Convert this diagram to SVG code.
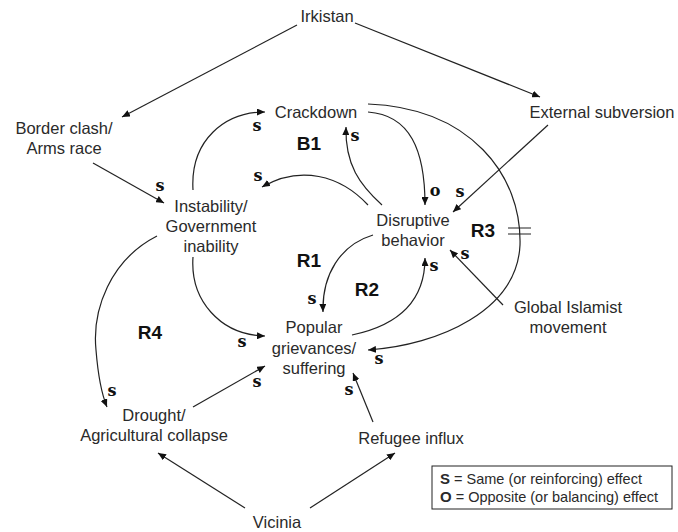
<svg xmlns="http://www.w3.org/2000/svg" width="678" height="532" viewBox="0 0 678 532">
<style>
.t{font-family:"Liberation Sans",Arial,sans-serif;font-size:16.5px;fill:#2a2a2a;text-anchor:middle}
.l{font-family:"Liberation Sans",Arial,sans-serif;font-size:19px;font-weight:bold;fill:#111;text-anchor:middle}
.s{font-family:"DejaVu Serif",serif;font-size:16px;font-weight:bold;fill:#111;text-anchor:middle}
.g{font-family:"Liberation Sans",Arial,sans-serif;font-size:14.5px;fill:#2a2a2a}
.c{fill:none;stroke:#222;stroke-width:1.2;marker-end:url(#a)}
</style>
<defs>
<marker id="a" markerUnits="userSpaceOnUse" markerWidth="9" markerHeight="7" refX="8" refY="3.5" orient="auto">
<path d="M0,0 L8,3.5 L0,7 z" fill="#111"/>
</marker>
</defs>
<rect width="678" height="532" fill="#fff"/>
<g id="connectors">
<path class="c" d="M297,25 L122,117"/>
<path class="c" d="M355,23 L540,97"/>
<path class="c" d="M93,163 L164,203"/>
<path class="c" d="M193,190 C190,140 225,112 265,112"/>
<path class="c" d="M368,112 C410,115 425,150 425,205"/>
<path class="c" d="M368,104 C470,108 522,175 520,245 C517,310 440,345 368,350"/>
<path class="c" d="M382,205 C360,185 345,165 346,127"/>
<path class="c" d="M368,205 C340,175 300,165 262,187"/>
<path class="c" d="M548,125 L453,212"/>
<path class="c" d="M373,235 C340,245 322,275 323,312"/>
<path class="c" d="M352,335 C400,325 425,300 425,258"/>
<path class="c" d="M503,305 L450,250"/>
<path class="c" d="M193,257 C190,300 220,335 265,336"/>
<path class="c" d="M157,236 C110,260 92,310 96,350 C98,375 102,395 107,407"/>
<path class="c" d="M193,407 L265,366"/>
<path class="c" d="M373,422 L353,373"/>
<path class="c" d="M245,508 L158,453"/>
<path class="c" d="M310,508 L395,453"/>
<path d="M508,228 L531,228 M508,234 L531,234" stroke="#222" stroke-width="1.2"/>
</g>
<g id="irkistan"><text class="t" x="327" y="22">Irkistan</text></g>
<g id="border"><text class="t" x="64" y="134">Border clash/</text><text class="t" x="64" y="154">Arms race</text></g>
<g id="external"><text class="t" x="602" y="118">External subversion</text></g>
<g id="crackdown"><text class="t" x="316" y="118">Crackdown</text></g>
<g id="instability"><text class="t" x="211" y="212">Instability/</text><text class="t" x="211" y="232">Government</text><text class="t" x="211" y="252">inability</text></g>
<g id="disruptive"><text class="t" x="413" y="226">Disruptive</text><text class="t" x="413" y="246">behavior</text></g>
<g id="global"><text class="t" x="568" y="313">Global Islamist</text><text class="t" x="568" y="333">movement</text></g>
<g id="popular"><text class="t" x="314" y="333">Popular</text><text class="t" x="314" y="354">grievances/</text><text class="t" x="314" y="374">suffering</text></g>
<g id="drought"><text class="t" x="154" y="421">Drought/</text><text class="t" x="154" y="441">Agricultural collapse</text></g>
<g id="refugee"><text class="t" x="411" y="444">Refugee influx</text></g>
<g id="vicinia"><text class="t" x="277" y="528">Vicinia</text></g>
<g id="loops">
<text class="l" x="309" y="150">B1</text>
<text class="l" x="309" y="267">R1</text>
<text class="l" x="367" y="296">R2</text>
<text class="l" x="483" y="237">R3</text>
<text class="l" x="150" y="339">R4</text>
</g>
<g id="polarities">
<text class="s" x="257" y="131">s</text>
<text class="s" x="160" y="191">s</text>
<text class="s" x="258" y="181">s</text>
<text class="s" x="355" y="141">s</text>
<text class="s" x="435" y="196">o</text>
<text class="s" x="460" y="197">s</text>
<text class="s" x="465" y="259">s</text>
<text class="s" x="434" y="271">s</text>
<text class="s" x="312" y="304">s</text>
<text class="s" x="242" y="347">s</text>
<text class="s" x="257" y="387">s</text>
<text class="s" x="379" y="364">s</text>
<text class="s" x="349" y="395">s</text>
<text class="s" x="112" y="396">s</text>
</g>
<g id="legend">
<rect x="432" y="466" width="240" height="43" fill="#fff" stroke="#222" stroke-width="1"/>
<text class="g" x="440" y="484"><tspan font-weight="bold" font-size="15">S</tspan> = Same (or reinforcing) effect</text>
<text class="g" x="440" y="502"><tspan font-weight="bold" font-size="15">O</tspan> = Opposite (or balancing) effect</text>
</g>
</svg>
